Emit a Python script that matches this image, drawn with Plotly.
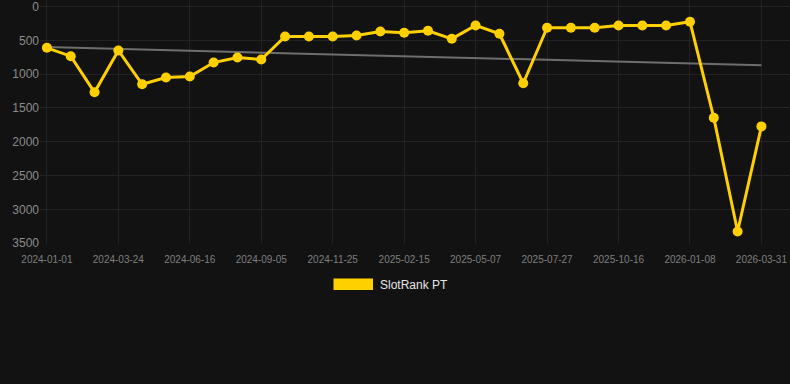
import numpy as np
import plotly.graph_objects as go

dates = [
    "2024-01-01", "2024-01-29", "2024-02-26", "2024-03-24", "2024-04-21",
    "2024-05-19", "2024-06-16", "2024-07-13", "2024-08-09", "2024-09-05",
    "2024-10-02", "2024-10-29", "2024-11-25", "2024-12-22", "2025-01-19",
    "2025-02-15", "2025-03-14", "2025-04-10", "2025-05-07", "2025-06-03",
    "2025-06-30", "2025-07-27", "2025-08-23", "2025-09-19", "2025-10-16",
    "2025-11-12", "2025-12-11", "2026-01-08", "2026-02-04", "2026-03-03",
    "2026-03-31",
]
rank = [
    611, 735, 1269, 650, 1150, 1051, 1036, 829, 754, 784,
    443, 443, 443, 428, 369, 389, 359, 478, 280, 404,
    1135, 314, 314, 314, 280, 280, 280, 225, 1645, 3327,
    1773,
]
tick_labels = [
    "2024-01-01", "2024-03-24", "2024-06-16", "2024-09-05", "2024-11-25",
    "2025-02-15", "2025-05-07", "2025-07-27", "2025-10-16", "2026-01-08",
    "2026-03-31",
]
y_ticks = [0, 500, 1000, 1500, 2000, 2500, 3000, 3500]
series_name = "SlotRank PT"

idx = np.arange(len(rank))
slope, intercept = np.polyfit(idx, rank, 1)
trend = slope * idx + intercept

BG = "#121212"
GRID = "#222222"
YELLOW = "#FFD000"

# plot area geometry (pixels)
PL, PW, PT, PH = 40, 750, 0, 244


def px_x(x):
    return (x - PL) / PW


def px_y(y):
    return (PT + PH - y) / PH


fig = go.Figure()
fig.add_trace(go.Scatter(
    x=dates, y=trend, mode="lines",
    line=dict(color="#6e6e6e", width=2),
    showlegend=False, hoverinfo="skip",
))
fig.add_trace(go.Scatter(
    x=dates, y=rank, mode="lines+markers",
    line=dict(color=YELLOW, width=3),
    marker=dict(color=YELLOW, size=10),
    name=series_name, showlegend=False,
))

# legend (swatch + label) below the plot
fig.add_shape(type="rect", xref="paper", yref="paper",
              x0=px_x(333.5), x1=px_x(373),
              y0=px_y(278.5), y1=px_y(290),
              fillcolor=YELLOW, line=dict(width=0))
fig.add_annotation(xref="paper", yref="paper",
                   x=px_x(378), y=px_y(284.5),
                   xanchor="left", yanchor="middle", showarrow=False,
                   text=series_name,
                   font=dict(family="Arial, Liberation Sans, sans-serif", size=12, color="#e6e6e6"))

fig.update_layout(
    width=790, height=384,
    margin=dict(l=PL, r=790 - PL - PW, t=PT, b=384 - PT - PH),
    paper_bgcolor=BG, plot_bgcolor=BG,
    font=dict(family="Arial, Liberation Sans, sans-serif"),
    showlegend=False,
)
fig.update_xaxes(
    type="category", categoryorder="array", categoryarray=dates,
    range=[-0.29, 31.2],
    tickmode="array", tickvals=tick_labels, ticktext=tick_labels,
    tickangle=0, ticklabelstandoff=8,
    tickfont=dict(size=10, color="#7f7f7f"),
    showgrid=True, gridcolor=GRID, gridwidth=1,
    zeroline=False, showline=False, ticks="",
)
fig.update_yaxes(
    range=[3512, -96],
    tickmode="array", tickvals=y_ticks,
    ticklabeloverflow="allow",
    tickfont=dict(size=12, color="#8c8c8c"),
    showgrid=True, gridcolor=GRID, gridwidth=1,
    zeroline=False, showline=False, ticks="",
)

fig.write_html("out.html")
